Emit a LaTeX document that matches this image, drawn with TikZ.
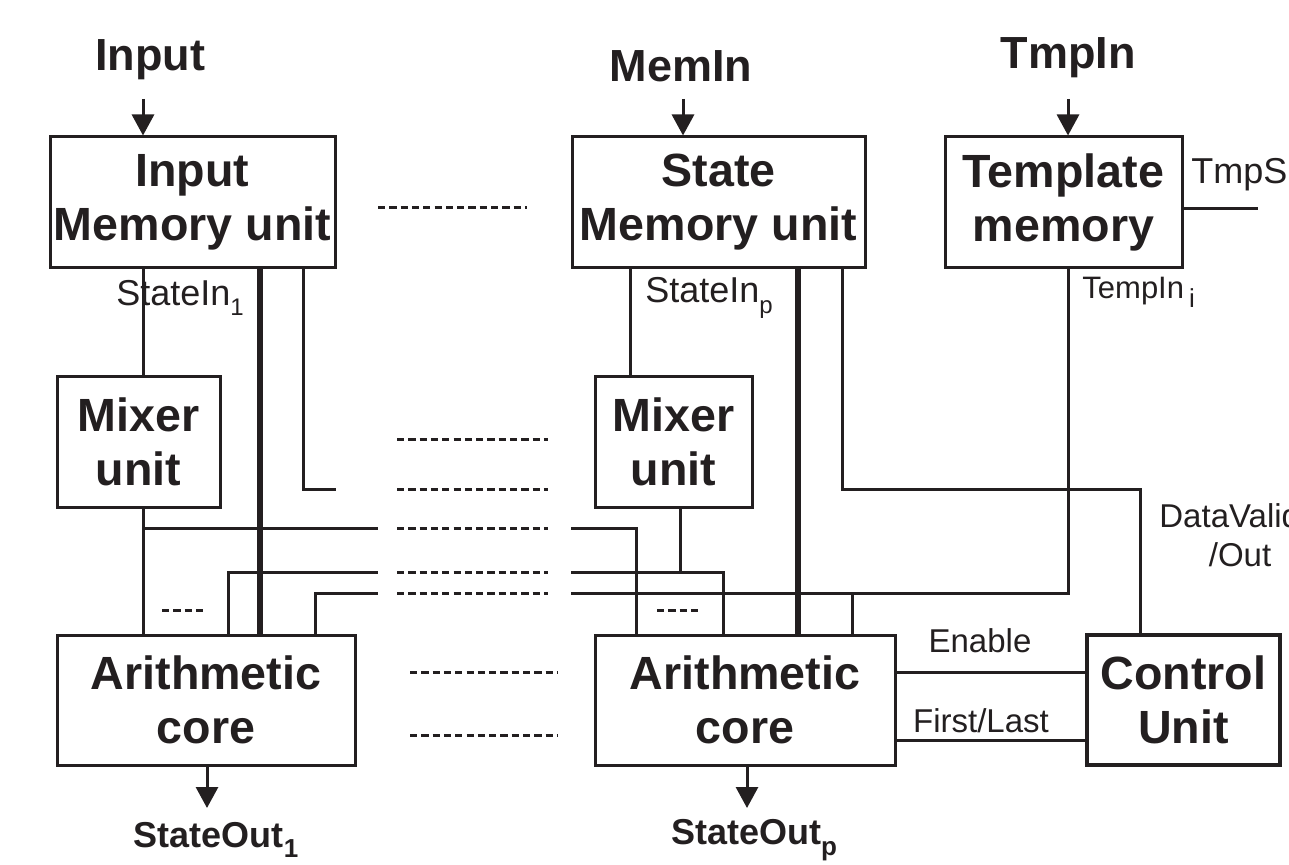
\documentclass[tikz,border=0pt]{standalone}
\usepackage{fontspec}
\setmainfont{Liberation Sans}
\usetikzlibrary{arrows.meta}
\definecolor{ink}{HTML}{231F20}
\newcommand\lowsub[2]{\raisebox{-0.55ex}{\fontsize{#1}{#1}\selectfont #2}}
\begin{document}
\begin{tikzpicture}[x=0.5pt,y=-0.5pt, color=ink,
  box/.style={draw=ink, line width=1.5pt, align=center, inner sep=0pt,
    text=ink, font=\fontsize{23.3}{27}\selectfont\bfseries},
  ln/.style={draw=ink, line width=1.5pt},
  thk/.style={draw=ink, line width=2.6pt},
  dsh/.style={draw=ink, line width=1.5pt, dash pattern=on 3.6pt off 2.05pt},
  arr/.style={draw=ink, line width=1.5pt, -{Triangle[length=10.5pt,width=11pt]}},
  lbl/.style={text=ink, font=\fontsize{16.5}{20}\selectfont, inner sep=0pt},
  toplbl/.style={text=ink, font=\fontsize{22.5}{26}\selectfont\bfseries, inner sep=0pt},
  outlbl/.style={text=ink, font=\fontsize{18}{20}\selectfont\bfseries, inner sep=0pt}]
\useasboundingbox (0,0) rectangle (1289,865);

% boxes
\node[box, minimum width=142.5pt, minimum height=65.5pt] (inmem) at (192.5,202.5) {Input\\Memory unit};
\node[box, minimum width=146.5pt, minimum height=65.5pt] (stmem) at (718.5,202.5) {State\\Memory unit};
\node[box, minimum width=118.5pt, minimum height=65.5pt] (tmpl) at (1063.5,202.5) {Template\\memory};
\node[box, minimum width=81.5pt, minimum height=65pt] (mixL) at (138.5,442) {Mixer\\unit};
\node[box, minimum width=78.5pt, minimum height=65pt] (mixR) at (673.5,442) {Mixer\\unit};
\node[box, minimum width=149pt, minimum height=65pt] (arL) at (206,700) {Arithmetic\\core};
\node[box, minimum width=150pt, minimum height=65pt] (arR) at (745,700) {Arithmetic\\core};
\node[box, line width=2.3pt, minimum width=96.5pt, minimum height=65pt] (ctrl) at (1183.5,700) {Control\\Unit};

% top labels and input arrows
\node[toplbl] (lInput) at (150,60) {Input};
\node[toplbl] (lMemIn) at (681,66) {MemIn};
\node[toplbl] (lTmpIn) at (1068,58) {TmpIn};
\coordinate (aIn) at (143,99);
\coordinate (aMem) at (683,99);
\coordinate (aTmp) at (1068,99);
\draw[arr] (aIn) -- (inmem.north -| aIn);
\draw[arr] (aMem) -- (stmem.north -| aMem);
\draw[arr] (aTmp) -- (tmpl.north -| aTmp);

% TmpS
\coordinate (tsE) at (1258,209);
\draw[ln] (tmpl.east |- tsE) -- (tsE);
\node[lbl, font=\fontsize{18}{20}\selectfont, anchor=west] (lTmpS) at (1191,175) {TmpS};

% x positions and rows
\coordinate (x143) at (143,0);
\coordinate (x228) at (228,0);
\coordinate (x260) at (260,0);
\coordinate (x303) at (303,0);
\coordinate (x315) at (315,0);
\coordinate (x630) at (630,0);
\coordinate (x636) at (636,0);
\coordinate (x680) at (680,0);
\coordinate (x723) at (723,0);
\coordinate (x798) at (798,0);
\coordinate (x842) at (842,0);
\coordinate (x852) at (852,0);
\coordinate (x1068) at (1068,0);
\coordinate (x1140) at (1140,0);
\coordinate (y490) at (0,490);

% left column
\draw[ln] (inmem.south -| x143) -- (mixL.north -| x143);
\draw[thk] (inmem.south -| x260) -- (arL.north -| x260);
\coordinate (p1) at (336,490);
\draw[ln] (inmem.south -| x303) |- (p1);
\draw[ln] (mixL.south -| x143) -- (arL.north -| x143);
\coordinate (p2) at (378,528);
\draw[ln] (x143 |- p2) -- (p2);
\coordinate (p3) at (378,572);
\draw[ln] (arL.north -| x228) |- (p3);
\coordinate (p4) at (378,593);
\draw[ln] (arL.north -| x315) |- (p4);

% right column
\draw[ln] (stmem.south -| x630) -- (mixR.north -| x630);
\draw[thk] (stmem.south -| x798) -- (arR.north -| x798);
\coordinate (q2) at (571,528);
\draw[ln] (q2) -| (arR.north -| x636);
\coordinate (q3) at (571,572);
\draw[ln] (q3) -| (arR.north -| x723);
\draw[ln] (mixR.south -| x680) -- (x680 |- q3);
\coordinate (q4) at (571,593);
\draw[ln] (q4) -| (tmpl.south -| x1068);
\draw[ln] (x852 |- q4) -- (arR.north -| x852);
\draw[ln] (stmem.south -| x842) -- (x842 |- y490) -| (ctrl.north -| x1140);

% control connections
\coordinate (yEn) at (0,672);
\coordinate (yFL) at (0,740);
\draw[ln] (arR.east |- yEn) -- (ctrl.west |- yEn);
\draw[ln] (arR.east |- yFL) -- (ctrl.west |- yFL);
\node[lbl] (lEn) at (980,641) {Enable};
\node[lbl] (lFL) at (981,721) {First/Last};
\node[lbl, anchor=west] (lDV1) at (1159,516) {DataValid};
\node[lbl] (lDV2) at (1240,555) {/Out};

% small labels
\node[lbl, font=\fontsize{18}{20}\selectfont, anchor=west] (lSI1) at (116,298) {StateIn\lowsub{12}{1}};
\node[lbl, font=\fontsize{18}{20}\selectfont, anchor=west] (lSIp) at (645,298) {StateIn\lowsub{12}{p}};
\node[lbl, font=\fontsize{15.5}{18}\selectfont, anchor=west] (lTI) at (1082,292) {TempIn\,\lowsub{13}{i}};

% dashed ellipses
\foreach \xa/\xb/\yy in {378/527/208, 397/548/440, 397/548/490, 397/548/528,
   397/548/572, 397/548/593, 410/557/672, 410/557/735, 162/205/610, 657/700/610}
  \draw[dsh] (\xa,\yy) -- (\xb,\yy);

% outputs
\coordinate (o1) at (207,808);
\coordinate (o2) at (747,808);
\draw[arr] (arL.south -| o1) -- (o1);
\draw[arr] (arR.south -| o2) -- (o2);
\node[outlbl] (lSO1) at (216,840) {StateOut\lowsub{13}{1}};
\node[outlbl] (lSOp) at (754,840) {StateOut\lowsub{13}{p}};
\end{tikzpicture}
\end{document}
